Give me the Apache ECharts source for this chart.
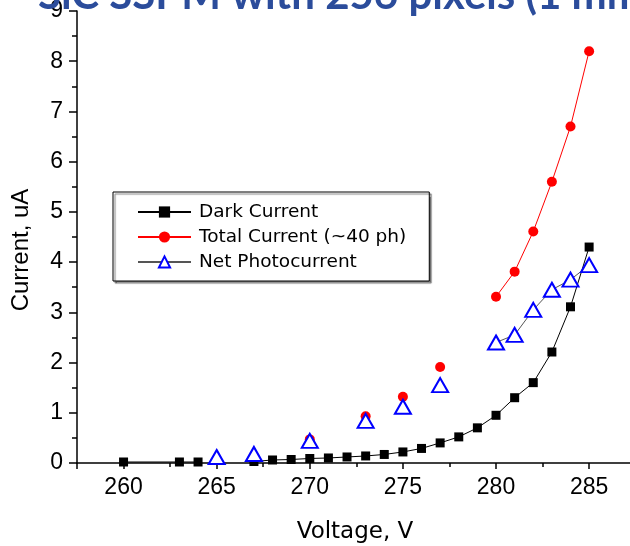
<!DOCTYPE html>
<html>
<head>
<meta charset="utf-8">
<script src="https://cdn.jsdelivr.net/npm/echarts@6/dist/echarts.min.js"></script>
<style>html,body{margin:0;padding:0;background:#fff}#c{width:630px;height:546px}</style>
</head>
<body>
<div id="c"></div>
<script>
// ---- data ----
const titleText = 'SiC SSPM with 256 pixels (1 mm';
const xName = 'Voltage, V';
const yName = 'Current, uA';
const seriesNames = ['Dark Current', 'Total Current (~40 ph)', 'Net Photocurrent'];
const voltage = [260, 263, 264, 265, 266, 267, 268, 269, 270, 271, 272, 273, 274, 275, 276, 277, 278, 279, 280, 281, 282, 283, 284, 285];
const darkCurrent = [0.02, 0.02, 0.02, null, null, 0.03, 0.06, 0.07, 0.09, 0.10, 0.12, 0.14, 0.17, 0.22, 0.29, 0.40, 0.52, 0.70, 0.95, 1.30, 1.60, 2.21, 3.11, 4.30];
const totalCurrent = [null, null, null, null, null, null, null, null, 0.47, null, null, 0.93, null, 1.32, null, 1.91, null, null, 3.31, 3.81, 4.61, 5.60, 6.70, 8.20];
const netPhotocurrent = [null, null, null, 0.12, null, 0.18, null, null, 0.44, null, null, 0.84, null, 1.12, null, 1.55, null, null, 2.40, 2.55, 3.05, 3.45, 3.65, 3.94];

function pairs(values) {
  return voltage.map((v, i) => [v, values[i] == null ? '-' : values[i]]);
}

const chart = echarts.init(document.getElementById('c'), null, {renderer: 'canvas'});
const axisColor = '#000';
chart.setOption({
  animation: false,
  backgroundColor: '#fff',
  grid: {left: 77, right: -15, top: 11, bottom: 83, containLabel: false, outerBoundsMode: 'none'},
  graphic: [{
    type: 'text', x: 38, y: -5, z: 100,
    style: {text: titleText, fontFamily: 'Lato', fontWeight: 'bold', fontSize: 42, fill: '#2B4C9B', verticalAlign: 'middle', align: 'left'}
  }],
  legend: {
    orient: 'vertical', left: 113, top: 192,
    padding: [10, 23, 9, 24], itemGap: 5, itemWidth: 53, itemHeight: 14,
    backgroundColor: '#fff', borderColor: '#000', borderWidth: 1,
    shadowColor: 'rgba(0,0,0,0.5)', shadowOffsetX: 2, shadowOffsetY: 2, shadowBlur: 1,
    selectedMode: false,
    textStyle: {fontFamily: 'DejaVu Sans', fontSize: 18.5, color: '#000', lineHeight: 20, padding: [0, 0, 0, 3]},
    data: seriesNames
  },
  xAxis: [{
    type: 'value', min: 257.5, max: 288, splitNumber: 5, position: 'bottom',
    axisLine: {show: true, onZero: false, lineStyle: {color: axisColor, width: 1.5}},
    axisTick: {show: true, inside: false, length: 6, lineStyle: {color: axisColor, width: 1.5}},
    axisLabel: {
      margin: 13, color: '#000', fontSize: 23, fontFamily: 'Liberation Sans',
      formatter: v => (Math.abs(v % 5) < 1e-9 ? String(v) : '')
    },
    splitLine: {show: false},
    name: xName, nameLocation: 'middle', nameGap: 58,
    nameTextStyle: {fontFamily: 'DejaVu Sans', fontSize: 23, color: '#000', padding: [0, 12, 0, 0]}
  }, {
    type: 'value', min: 257.5, max: 288, interval: 5, position: 'bottom',
    axisLine: {show: false},
    axisTick: {show: true, inside: false, length: 4, lineStyle: {color: axisColor, width: 1.5}},
    axisLabel: {show: false},
    splitLine: {show: false}
  }],
  yAxis: {
    type: 'value', min: 0, max: 9, interval: 1,
    axisLine: {show: true, onZero: false, lineStyle: {color: axisColor, width: 1.5}},
    axisTick: {show: true, inside: false, length: 8, lineStyle: {color: axisColor, width: 1.5}},
    minorTick: {show: true, splitNumber: 2, length: 5, lineStyle: {color: axisColor, width: 1.5}},
    axisLabel: {margin: 14, color: '#000', fontSize: 23, fontFamily: 'Liberation Sans'},
    splitLine: {show: false},
    minorSplitLine: {show: false},
    name: yName, nameLocation: 'middle', nameGap: 44, nameRotate: 90,
    nameTextStyle: {fontFamily: 'Liberation Sans', fontSize: 24, color: '#000', padding: [0, 26, 0, 0]}
  },
  series: [{
    name: seriesNames[0], type: 'line', xAxisIndex: 0, data: pairs(darkCurrent),
    symbol: 'rect', symbolSize: 9, connectNulls: false, z: 2,
    itemStyle: {color: '#000'}, lineStyle: {color: '#000', width: 1}
  }, {
    name: seriesNames[1], type: 'line', xAxisIndex: 0, data: pairs(totalCurrent),
    symbol: 'circle', symbolSize: 10, connectNulls: false, z: 3,
    itemStyle: {color: '#FF0000'}, lineStyle: {color: '#FF0000', width: 1}
  }, {
    name: seriesNames[2], type: 'line', xAxisIndex: 0, data: pairs(netPhotocurrent),
    symbol: 'emptyTriangle', symbolSize: [16, 14], connectNulls: false, z: 4,
    itemStyle: {color: '#0000FF', borderWidth: 1.3}, lineStyle: {color: '#555', width: 1}
  }]
});
</script>
</body>
</html>
